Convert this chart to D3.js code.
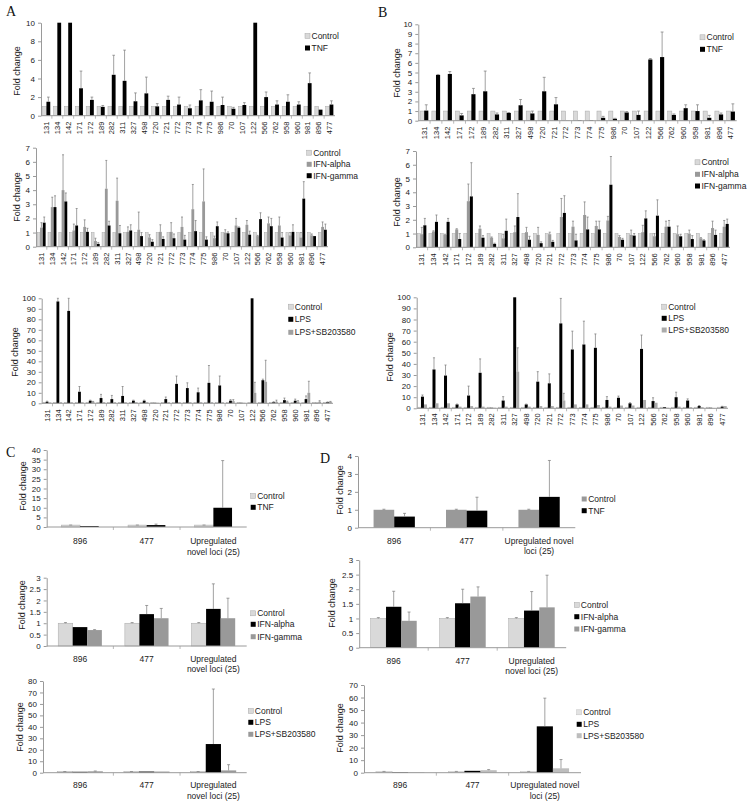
<!DOCTYPE html>
<html><head><meta charset="utf-8">
<script src="https://cdn.jsdelivr.net/npm/d3@7"></script>
<style>
body{margin:0;background:#fff}
svg{display:block}
text{font-family:"Liberation Sans",Arial,Helvetica,sans-serif;fill:#222}
.panel-letter{font-family:"Liberation Serif","Times New Roman",serif;font-size:14px;fill:#111}
</style>
</head><body>
<svg id="c" width="751" height="804"></svg>
<script>
// ---------------- DATA ----------------
const catsA = ["131","134","142","171","172","189","282","311","327","498","720","721","772","773","774","775","986","70","107","122","566","762","958","960","981","896","477"];
const catsB = ["131","134","142","171","172","189","282","311","327","498","720","721","772","773","774","775","986","70","107","122","566","762","960","958","981","896","477"];
const catsB3 = ["131","134","142","171","172","189","282","311","327","498","720","721","772","773","774","775","986","70","107","122","566","762","958","960","981","896","477"];
const ctrl27 = [1,1,1,1,1,1,1,1,1,1,1,1,1,1,1,1,1,1,1,1,1,1,1,1,1,1,1];

// A: TNF
const tnfA    = [1.5,10,10,2.95,1.7,0.95,4.4,3.75,1.55,2.4,1.0,1.7,1.2,0.8,1.65,1.5,1.15,0.75,1.15,10,2.0,1.2,1.5,1.2,3.5,0.65,1.2];
const tnfA_sd = [0.5,0,0,1.85,0.3,0.15,2.1,3.3,0.9,1.75,0.3,0.4,0.8,0.35,1.15,1.15,0.85,0.15,0.25,0,0.55,0.4,0.75,0.3,1.1,0,0.4];
// A: IFN
const alphaA    = [1.35,2.8,4.0,1.15,1.4,0.4,4.1,3.25,1.05,1.2,0.65,1.05,1.05,1.4,2.65,3.2,0.6,1.0,1.5,1.55,0.75,1.65,1.5,0.8,0.65,0.8,1.4];
const alphaA_sd = [0.35,0.7,2.5,0.45,0.5,0.2,2.0,1.6,0.35,1.25,0.2,0.5,0.65,0.7,1.75,2.3,0.15,0.2,0.5,0.3,0.05,0.45,0.6,0.2,0.35,0.1,0.35];
const gammaA    = [1.7,2.8,3.2,1.5,1.05,0.2,1.5,0.95,1.15,0.75,0.35,0.55,0.6,0.5,1.1,0.5,1.45,0.95,1.35,0.85,1.95,1.45,0.65,1.05,3.4,0.75,1.2];
const gammaA_sd = [0.4,0.8,0.6,1.2,0.25,0.1,0.3,0.55,0.4,0.25,0.15,0.15,0.3,0.3,0.75,0.2,0.3,0.1,0.05,0.25,0.45,0.55,0.35,0.5,1.2,0,0.4];
// A: LPS
const lpsA    = [1.5,97,88,11,2.5,5,4,7,2.5,2.5,0.5,4,18.5,14.5,10.5,19.5,17,2.5,0.5,100,22,1,3,2.5,4,0.5,1];
const lpsA_sd = [0.5,3,12,5,0.5,3.5,3.5,9,0.5,0.5,0,2,7.5,5,4,16.5,9,1,0,0,1,0.5,2,1.5,3,0,0.3];
const sbA     = [0.8,1,1,1,1.5,1,1,1,1,1,0.5,1,1,1,1,1,1,2,0.5,10,20.5,1.5,1.5,1.5,10,1.5,1.5];
const sbA_sd  = [0,0,0,0,0.3,0,0,0,0,0,0,0,0,0,0,0,0,1.5,0,10,20.5,1.5,0.5,1,11,1,0.3];

// B: TNF
const tnfB    = [1.05,4.75,4.85,0.55,2.75,3.05,0.65,0.8,1.6,0.75,3.05,1.7,0.02,0.05,0.05,0.3,0.2,0.85,0.6,6.35,6.6,0.6,1.3,1.0,0.3,0.65,0.95];
const tnfB_sd = [0.6,0.05,0.25,0.2,0.6,2.1,0.15,0.05,0.6,0.25,1.45,0.7,0,0,0,0.15,0.05,0.1,0.4,0.1,2.6,0.1,0.35,0.65,0.25,0.15,0.8];
// B: IFN
const alphaB    = [0.95,1.15,0.9,1.3,3.35,1.35,0.7,0.65,1.1,1.1,0.9,0.95,2.2,1.5,2.35,1.55,1.95,0.75,0.9,1.1,0.8,1.5,0.95,1.0,0.65,1.4,1.5];
const alphaB_sd = [0.5,0.05,0.05,0.05,1.25,0.2,0.05,0.3,0.45,0.35,0.55,0.15,1.35,0.4,0.95,0.35,0.3,0.1,0.35,0.5,0.2,0.4,0.6,0.25,0.05,0.5,0.45];
const gammaB    = [1.6,1.85,1.85,0.6,3.7,0.7,0.25,1.2,2.2,0.55,0.3,0.4,2.5,0.5,1.3,1.3,4.55,0.55,0.85,2.1,2.3,1.5,0.8,0.6,0.5,0.9,1.7];
const gammaB_sd = [0.5,0.5,0.25,0.4,2.45,0.15,0.05,0.85,1.7,0.25,0.1,0.1,1.25,0.45,0.9,0.6,2.05,0.1,0.15,0.55,1.15,0.45,0.15,0.25,0.05,0.35,0.35];
// B: LPS
const lpsB    = [10.5,35,29.5,3.5,11.5,32,0.5,7,100,3.5,24,22.5,76.5,53,57.5,54.5,7.5,9.5,4.5,53.5,6.5,1,10,7,2,0.5,1.5];
const lpsB_sd = [1.5,10.5,9.5,0.3,8.5,12.5,0,3.5,0,0.3,9,8.5,22.5,16.5,21,12.5,3,1.5,0.5,12.5,3,0,4.5,1.5,0.5,0,0.3];
const sbB     = [3.5,4.5,4.5,1.5,2,1.5,0.5,1.5,33,1.5,2,2,7,3.5,3.5,3,1.5,2.5,2.5,7.5,5,0.5,1.5,1,1,0.3,2];
const sbB_sd  = [0,0,0,0,0,0,0,0,21.5,0,0,0,6.5,0,0,0,0,0,0,0,0,0,0,0,0,0,0];

// C / D summary panels
const catsCD = ["896","477","Upregulated novel loci (25)"];
const labelsC  = [["896"],["477"],["Upregulated","novel loci (25)"]];
const labelsD1 = [["896"],["477"],["Upregulated novel","loci (25)"]];
const ctrl3 = [1,1,1];
const ctrl3_sd = [0.03,0.03,0.03];
const tnfC = [0.5,1,10],       tnfC_sd = [0,0.5,24.5];
const alphaC = [0.83,1.4,1.63], alphaC_sd = [0,0.38,1.1];
const gammaC = [0.7,1.22,1.22], gammaC_sd = [0.02,0.43,0.88];
const lpsC = [0.8,1,25],       lpsC_sd = [0,0,48];
const sbC  = [1.2,1,2],        sbC_sd  = [0.3,0,5];
const tnfD = [0.62,0.95,1.72], tnfD_sd = [0.18,0.75,2.03];
const alphaD = [1.4,1.52,1.27], alphaD_sd = [0.53,0.48,0.65];
const gammaD = [0.92,1.75,1.38], gammaD_sd = [0.3,0.33,1.1];
const lpsD = [0.5,1.5,37],     lpsD_sd = [0,0,22.5];
const sbD  = [0.5,2,3.5],      sbD_sd  = [0,0.5,7];

const ticks10 = [0,2,4,6,8,10];
const ticks10b = [0,1,2,3,4,5,6,7,8,9,10];
const ticks7 = [0,1,2,3,4,5,6,7];
const ticks100 = [0,10,20,30,40,50,60,70,80,90,100];
const ticks40 = [0,5,10,15,20,25,30,35,40];
const ticks3 = [0,0.5,1,1.5,2,2.5,3];
const ticks80 = [0,10,20,30,40,50,60,70,80];
const ticks4 = [0,1,2,3,4];
const ticks70 = [0,10,20,30,40,50,60,70];

// ---------------- DRAW ----------------
const LG = "#d9d9d9", MG = "#999999", BK = "#000000";
const svg = d3.select("#c");
const AX = "#9a9a9a";

function panel(cfg){
  const g = svg.append("g");
  const y = d3.scaleLinear().domain([0, cfg.max]).range([cfg.y0, cfg.yTop]).clamp(true);
  const x = d3.scaleBand().domain(cfg.cats).range([cfg.x0, cfg.x1]);
  const bw = x.bandwidth();
  const xs = d3.scaleBand().domain(cfg.series.map(s => s.name))
    .range([bw*(1-cfg.group)/2, bw*(1+cfg.group)/2]);
  const sw = xs.bandwidth();

  // y axis
  const ya = g.append("g").attr("transform", `translate(${cfg.axX ?? cfg.x0},0)`)
    .call(d3.axisLeft(y).tickValues(cfg.ticks).tickSize(3).tickSizeOuter(0).tickPadding(3).tickFormat(d => String(d)));
  ya.select(".domain").attr("stroke", AX);
  ya.selectAll(".tick line").attr("stroke", AX);
  ya.selectAll(".tick text").attr("font-size", cfg.tickFs).attr("fill", "#222")
    .attr("font-family", '"Liberation Sans",Arial,sans-serif');

  // bars
  cfg.series.forEach(s => {
    const data = cfg.cats.map((c,i) => ({c, v:s.v[i], e: s.sd ? s.sd[i] : 0}));
    g.append("g").selectAll("rect").data(data).join("rect")
      .attr("x", d => x(d.c) + xs(s.name))
      .attr("width", sw)
      .attr("y", d => y(d.v))
      .attr("height", d => y(0) - y(d.v))
      .attr("fill", s.color)
      .attr("stroke", s.stroke || "none")
      .attr("stroke-width", 0.5);
  });
  // error bars
  cfg.series.forEach(s => {
    if (!s.sd) return;
    const data = cfg.cats.map((c,i) => ({c, v:s.v[i], e:s.sd[i]})).filter(d => d.e > 0 && d.v < cfg.max);
    const cap = Math.min(cfg.cap || 1.5, sw*0.35);
    const eg = g.append("g").attr("stroke", "#7a7a7a").attr("stroke-width", 0.7).attr("fill","none");
    eg.selectAll("line.v").data(data).join("line").attr("class","v")
      .attr("x1", d => x(d.c)+xs(s.name)+sw/2).attr("x2", d => x(d.c)+xs(s.name)+sw/2)
      .attr("y1", d => y(d.v)).attr("y2", d => y(d.v+d.e));
    eg.selectAll("line.h").data(data.filter(d => d.v + d.e <= cfg.max)).join("line").attr("class","h")
      .attr("x1", d => x(d.c)+xs(s.name)+sw/2-cap).attr("x2", d => x(d.c)+xs(s.name)+sw/2+cap)
      .attr("y1", d => y(d.v+d.e)).attr("y2", d => y(d.v+d.e));
  });

  // x axis
  const xa = g.append("g").attr("transform", `translate(0,${cfg.y0})`)
    .call(d3.axisBottom(x).tickSize(0).tickSizeOuter(0).tickFormat(""));
  xa.select(".domain").attr("stroke", AX).attr("d", `M${cfg.axX ?? cfg.x0},0H${cfg.x1}`);
  g.append("g").selectAll("line").data(cfg.cats.slice(1)).join("line")
    .attr("x1", c => x(c)).attr("x2", c => x(c))
    .attr("y1", cfg.y0).attr("y2", cfg.y0 + 3).attr("stroke", AX).attr("stroke-width", 0.7);

  // category labels
  if (cfg.rot) {
    g.append("g").selectAll("text").data(cfg.cats).join("text")
      .attr("transform", c => `translate(${x(c)+bw/2 + cfg.labFs*0.35},${cfg.y0 + cfg.labOff}) rotate(-90)`)
      .attr("text-anchor", "end").attr("font-size", cfg.labFs).text(c => c);
  } else {
    cfg.cats.forEach((c,i) => {
      cfg.labels[i].forEach((line, j) => {
        g.append("text").attr("x", x(c)+bw/2).attr("y", cfg.labYs[j] + cfg.labFs*0.35)
          .attr("text-anchor","middle").attr("font-size", cfg.labFs).text(line);
      });
    });
  }

  // fold change label
  g.append("text").attr("transform", `translate(${cfg.fold[0]},${cfg.fold[1]}) rotate(-90)`)
    .attr("text-anchor","middle").attr("dy","0.35em").attr("font-size", cfg.foldFs || 9).text("Fold change");

  // legend
  cfg.series.forEach((s,i) => {
    const ly = cfg.legend.ys[i];
    g.append("rect").attr("x", cfg.legend.x).attr("y", ly - 2.5).attr("width", 5).attr("height", 5)
      .attr("fill", s.color).attr("stroke", s.stroke || "none").attr("stroke-width", 0.5);
    g.append("text").attr("x", cfg.legend.x + 6.5).attr("y", ly).attr("dy","0.35em")
      .attr("font-size", cfg.legFs).text(s.name);
  });
}

const ctrlS = {name:"Control", color:LG, stroke:"#a8a8a8"};

// ---- Panel A ----
panel({cats:catsA, x0:41, x1:335, y0:115.7, yTop:22.7, max:10, ticks:ticks10, group:0.7,
  series:[{...ctrlS, v:ctrl27}, {name:"TNF", v:tnfA, sd:tnfA_sd, color:BK}],
  legend:{x:305, ys:[36,48]}, fold:[17,71], rot:true, labOff:6, labFs:7.5, tickFs:8, legFs:8.5});
panel({cats:catsA, x0:36, x1:328, y0:246.7, yTop:147.7, max:7, ticks:ticks7, group:0.78,
  series:[{...ctrlS, v:ctrl27}, {name:"IFN-alpha", v:alphaA, sd:alphaA_sd, color:MG},
          {name:"IFN-gamma", v:gammaA, sd:gammaA_sd, color:BK}],
  legend:{x:306.7, ys:[152.7,164.3,175.7]}, fold:[17,197], rot:true, labOff:6, labFs:7.5, tickFs:8, legFs:8.5});
panel({cats:catsA, x0:41.7, x1:333, y0:403.3, yTop:298.3, max:100, ticks:ticks100, group:0.78,
  series:[{...ctrlS, v:ctrl27}, {name:"LPS", v:lpsA, sd:lpsA_sd, color:BK},
          {name:"LPS+SB203580", v:sbA, sd:sbA_sd, color:"#a0a0a0"}],
  legend:{x:288.3, ys:[306.7,319.3,332.3]}, fold:[15,352], rot:true, labOff:6, labFs:7.5, tickFs:8, legFs:8.5});

// ---- Panel B ----
panel({cats:catsB, x0:418.3, x1:736.7, y0:120.7, yTop:24.3, max:10, ticks:ticks10b, group:0.7,
  series:[{...ctrlS, v:ctrl27}, {name:"TNF", v:tnfB, sd:tnfB_sd, color:BK}],
  legend:{x:700, ys:[37.3,49.3]}, fold:[396.7,73], rot:true, labOff:6, labFs:7.5, tickFs:8, legFs:8.5});
panel({cats:catsB, x0:416, x1:730, y0:247.3, yTop:151, max:7, ticks:ticks7, group:0.78,
  series:[{...ctrlS, v:ctrl27}, {name:"IFN-alpha", v:alphaB, sd:alphaB_sd, color:MG},
          {name:"IFN-gamma", v:gammaB, sd:gammaB_sd, color:BK}],
  legend:{x:695, ys:[162.3,174.3,186]}, fold:[396.7,202], rot:true, labOff:6, labFs:7.5, tickFs:8, legFs:8.5});
panel({cats:catsB3, x0:416.7, x1:728, y0:408.3, yTop:297.3, max:100, ticks:ticks100, group:0.78,
  series:[{...ctrlS, v:ctrl27}, {name:"LPS", v:lpsB, sd:lpsB_sd, color:BK},
          {name:"LPS+SB203580", v:sbB, sd:sbB_sd, color:"#ababab"}],
  legend:{x:661.7, ys:[306.7,318.3,330]}, fold:[390,357], rot:true, labOff:5, labFs:7.5, tickFs:8, legFs:8.5});

// ---- Panel C ----
panel({cats:catsCD, labels:labelsC, labYs:[541,551.7], x0:46.7, x1:246.7, y0:527, yTop:450, max:40, ticks:ticks40, group:0.56,
  series:[{...ctrlS, v:ctrl3, sd:ctrl3_sd}, {name:"TNF", v:tnfC, sd:tnfC_sd, color:BK}],
  legend:{x:250.7, ys:[496,507.3]}, fold:[23,486], rot:false, labFs:8.5, tickFs:8, legFs:8.5, cap:1.5});
panel({cats:catsCD, labels:labelsC, labYs:[659,669.3], x0:46.7, x1:246.7, y0:646, yTop:577.7, max:3, ticks:ticks3, group:0.655,
  series:[{...ctrlS, v:ctrl3, sd:ctrl3_sd}, {name:"IFN-alpha", v:alphaC, sd:alphaC_sd, color:BK},
          {name:"IFN-gamma", v:gammaC, sd:gammaC_sd, color:MG}],
  legend:{x:250.7, ys:[613.3,624.3,636.7]}, fold:[21.7,605], rot:false, labFs:8.5, tickFs:8, legFs:8.5, cap:1.5});
panel({cats:catsCD, labels:labelsC, labYs:[785,796], x0:46.7, x1:246.7, axX:43, y0:772.7, yTop:681, max:80, ticks:ticks80, group:0.685,
  series:[{...ctrlS, v:ctrl3, sd:ctrl3_sd}, {name:"LPS", v:lpsC, sd:lpsC_sd, color:BK},
          {name:"LPS+SB203580", v:sbC, sd:sbC_sd, color:MG}],
  legend:{x:248.3, ys:[711,722.3,734.3]}, fold:[20,727], rot:false, labFs:8.5, tickFs:8, legFs:8.5, cap:1.5});

// ---- Panel D ----
panel({cats:catsCD, labels:labelsD1, labYs:[541,551], x0:358, x1:575.3, y0:527.7, yTop:456, max:4, ticks:ticks4, group:0.57,
  series:[{name:"Control", v:ctrl3, sd:ctrl3_sd, color:MG}, {name:"TNF", v:tnfD, sd:tnfD_sd, color:BK}],
  legend:{x:581.7, ys:[499,510.7]}, fold:[340,490], rot:false, labFs:8.5, tickFs:8, legFs:8.5, cap:1.5});
panel({cats:catsCD, labels:labelsC, labYs:[660.7,671], x0:359.2, x1:566.2, y0:647.7, yTop:560, max:3, ticks:ticks3, group:0.667,
  series:[{...ctrlS, v:ctrl3, sd:ctrl3_sd}, {name:"IFN-alpha", v:alphaD, sd:alphaD_sd, color:BK},
          {name:"IFN-gamma", v:gammaD, sd:gammaD_sd, color:MG}],
  legend:{x:574.3, ys:[605,616.7,629]}, fold:[331.7,603], rot:false, labFs:8.5, tickFs:8, legFs:8.5, cap:1.5});
panel({cats:catsCD, labels:labelsD1, labYs:[785,796], x0:364, x1:581, y0:772.7, yTop:685, max:70, ticks:ticks70, group:0.67,
  series:[{name:"Control", v:ctrl3, sd:ctrl3_sd, color:"#e2e2e2", stroke:"#c0c0c0"}, {name:"LPS", v:lpsD, sd:lpsD_sd, color:BK},
          {name:"LPS+SB203580", v:sbD, sd:sbD_sd, color:"#bdbdbd"}],
  legend:{x:576.7, ys:[712.3,724.3,735.7]}, fold:[340,728], rot:false, labFs:8.5, tickFs:8, legFs:8.5, cap:1.5});

// panel letters
[["A",6,16],["B",378,17],["C",6,457],["D",320,463]].forEach(([t,x,y]) =>
  svg.append("text").attr("class","panel-letter").attr("x",x).attr("y",y).text(t));
</script>
</body></html>
